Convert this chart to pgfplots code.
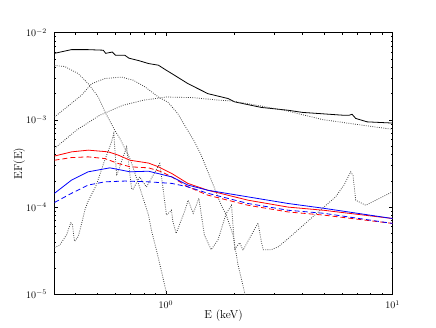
\documentclass[border=0pt]{standalone}
\usepackage{pgfplots}
\pgfplotsset{compat=1.18}

\begin{document}
\begin{tikzpicture}
\begin{axis}[
  at={(0pt,0pt)}, anchor=south west,
  scale only axis, width=338pt, height=261.6pt,
  xmode=log, ymode=log,
  xmin=0.323, xmax=10, ymin=1e-5, ymax=1e-2,
  axis line style={line width=0.8pt},
  tick style={black, line width=0.5pt},
  major tick length=3.5pt, minor tick length=1.8pt,
  tick align=inside,
  ticklabel style={font=\fontsize{10}{12}\selectfont},
  yticklabel style={xshift=-4pt},
  xticklabel style={yshift=-3pt},
  xlabel={E (keV)}, ylabel={EF(E)},
  label style={font=\fontsize{11.5}{13}\selectfont},
  xlabel style={at={(axis description cs:0.5,-0.082)}, anchor=center},
  ylabel style={at={(axis description cs:-0.104,0.5)}, anchor=center},
  every axis plot/.append style={line width=0.8pt},
]
% total model
\addplot[black] coordinates {
  (0.323,5.8e-3) (0.384,6.4e-3) (0.45,6.4e-3) (0.53,6.3e-3) (0.543,5.8e-3)
  (0.581,6.0e-3) (0.601,5.5e-3) (0.661,5.5e-3) (0.688,5.1e-3) (0.757,4.8e-3)
  (0.839,4.43e-3) (0.928,4.24e-3) (1.007,3.7e-3) (1.063,3.4e-3) (1.251,2.61e-3)
  (1.534,2.0e-3) (1.880,1.76e-3) (2.014,1.61e-3) (2.641,1.39e-3) (3.466,1.29e-3)
  (3.998,1.22e-3) (6.10,1.13e-3) (6.433,1.13e-3) (6.634,1.16e-3) (6.882,1.04e-3)
  (7.73,9.5e-4) (10,9.2e-4)};
% components
\addplot[black!75, dash pattern=on 0.8pt off 1.4pt] coordinates {
  (0.323,4.2e-3) (0.358,4.1e-3) (0.411,3.4e-3) (0.455,2.6e-3) (0.504,1.83e-3)
  (0.539,1.24e-3) (0.596,7.6e-4) (0.628,6.1e-4) (0.695,3.6e-4) (0.770,1.64e-4)
  (0.839,8.1e-5) (0.867,5.27e-5) (0.928,2.6e-5) (1.01,1.0e-5) (1.03,8e-6)};
\addplot[black!75, dash pattern=on 0.8pt off 1.4pt] coordinates {
  (0.323,1.08e-3) (0.425,1.92e-3) (0.471,2.6e-3) (0.539,2.98e-3) (0.639,3.1e-3)
  (0.719,2.85e-3) (0.810,2.39e-3) (0.928,1.83e-3) (1.021,1.6e-3) (1.13,1.18e-3)
  (1.21,8.7e-4) (1.34,5.6e-4) (1.433,3.94e-4) (1.534,2.54e-4) (1.643,1.64e-4)
  (1.757,1.05e-4) (1.849,8.1e-5) (1.98,4.8e-5) (2.083,2.18e-5) (2.23,1.03e-5) (2.26,8e-6)};
\addplot[black!75, dash pattern=on 0.8pt off 1.4pt] coordinates {
  (0.323,4.7e-4) (0.403,7.6e-4) (0.511,1.13e-3) (0.647,1.47e-3) (0.794,1.68e-3)
  (1.007,1.83e-3) (1.321,1.8e-3) (1.734,1.68e-3) (1.945,1.65e-3) (2.641,1.44e-3)
  (3.466,1.26e-3) (4.90,1.01e-3) (7.367,8.7e-4) (10,7.8e-4)};
\addplot[black!75, dash pattern=on 0.8pt off 1.4pt] coordinates {
  (0.323,3.45e-5) (0.340,3.64e-5) (0.365,4.8e-5) (0.381,6.6e-5) (0.387,6.4e-5)
  (0.396,4.05e-5) (0.411,4.6e-5) (0.425,6.4e-5) (0.440,9.3e-5) (0.453,1.15e-4)
  (0.494,1.79e-4) (0.53,3.1e-4) (0.575,5.5e-4) (0.59,7.0e-4) (0.607,2.3e-4)
  (0.672,4.9e-4) (0.707,1.64e-4) (0.717,1.6e-4) (0.767,2.22e-4) (0.822,1.7e-4)
  (0.941,3.16e-4) (1.007,8.1e-5) (1.060,9.2e-5) (1.074,6.9e-5) (1.111,5.0e-5)
  (1.21,8.9e-5) (1.255,1.2e-4) (1.321,8.5e-5) (1.40,1.26e-4) (1.48,4.8e-5)
  (1.586,3.25e-5) (1.699,4.2e-5) (1.849,8.5e-5) (1.95,1.05e-4) (2.014,3.3e-5)
  (2.12,3.9e-5) (2.19,3.2e-5) (2.553,6.6e-5) (2.64,4.0e-5) (2.69,3.25e-5)
  (2.92,3.25e-5) (3.13,3.5e-5) (3.41,4.2e-5) (4.98,1.0e-4) (5.61,1.31e-4)
  (6.11,1.79e-4) (6.54,2.54e-4) (6.70,2.3e-4) (6.88,1.2e-4) (7.62,1.05e-4)
  (9.03,1.31e-4) (10,1.5e-4)};
% red
\addplot[red] coordinates {
  (0.323,3.85e-4) (0.384,4.3e-4) (0.455,4.5e-4) (0.558,4.3e-4) (0.618,3.94e-4)
  (0.695,3.45e-4) (0.839,3.2e-4) (0.928,2.9e-4) (1.063,2.43e-4) (1.251,1.87e-4)
  (1.534,1.56e-4) (2.306,1.2e-4) (3.466,1.0e-4) (4.966,9.2e-5) (10,7.4e-5)};
\addplot[red, dash pattern=on 5pt off 3pt] coordinates {
  (0.323,3.45e-4) (0.384,3.7e-4) (0.455,3.77e-4) (0.539,3.6e-4) (0.618,3.16e-4)
  (0.695,2.9e-4) (0.839,2.82e-4) (0.960,2.54e-4) (1.063,2.22e-4) (1.251,1.71e-4)
  (1.534,1.37e-4) (2.306,1.05e-4) (3.466,8.8e-5) (4.966,8.1e-5) (10,6.5e-5)};
% blue
\addplot[blue] coordinates {
  (0.323,1.44e-4) (0.384,2.04e-4) (0.455,2.54e-4) (0.567,2.82e-4) (0.695,2.54e-4)
  (0.839,2.58e-4) (0.960,2.37e-4) (1.063,2.22e-4) (1.251,1.79e-4) (1.534,1.56e-4)
  (2.306,1.31e-4) (3.466,1.1e-4) (4.966,9.7e-5) (10,7.4e-5)};
\addplot[blue, dash pattern=on 5pt off 3pt] coordinates {
  (0.323,1.13e-4) (0.384,1.44e-4) (0.455,1.79e-4) (0.539,1.95e-4) (0.661,1.99e-4)
  (0.839,1.95e-4) (1.063,1.87e-4) (1.251,1.71e-4) (1.534,1.44e-4) (2.306,1.1e-4)
  (3.466,9.2e-5) (4.966,8.5e-5) (10,6.5e-5)};
\end{axis}
\path (-54.5pt,-32.7pt) rectangle (381.5pt,294.3pt);
\end{tikzpicture}
\end{document}
